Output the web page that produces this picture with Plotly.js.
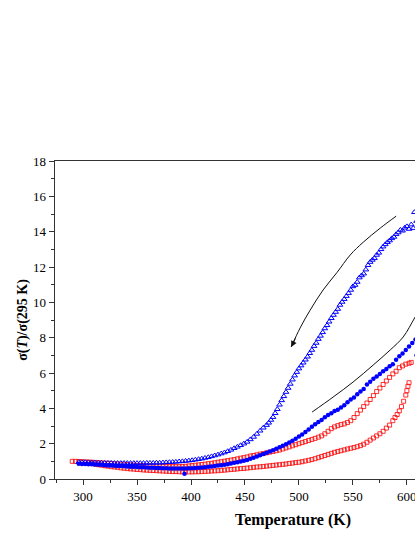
<!DOCTYPE html>
<html>
<head>
<meta charset="utf-8">
<script src="https://cdn.plot.ly/plotly-3.0.1.min.js"></script>
<style>
html,body{margin:0;padding:0;overflow:hidden;background:#fff;}
#chart{width:600px;height:537px;}
</style>
</head>
<body>
<div id="chart"></div>
<script>
// Blue open triangles (cooling run)
const triT = [296,299,302,305,308,311,314,317,320,323,326,329,332,335,338,341,344,347,350,353,356,359,362,365,368,371,374,377,380,383,386,389,392,395,398,401,404,407,410,413,416,419,422,425,428,431,434,437,440,443,446,449,452,455,458,461,464,467,470,472,474,476,478,480,482,484,486,488,490,492,494,496,498,500,502,504,506,508,510,512,514,516,518,520,522,524,526,528,530,532,534,536,538,540,542,544,546,548,550,552,554,556,558,560,562,564,566,568,570,572,574,576,578,580,582,584,586,588,590,592,594,596,598,600,602,604,606,607,609,611,614];
const triS = [0.95,0.95,0.95,0.94,0.94,0.93,0.92,0.92,0.91,0.91,0.91,0.90,0.90,0.90,0.90,0.90,0.90,0.90,0.90,0.90,0.90,0.91,0.91,0.91,0.92,0.92,0.93,0.94,0.95,0.96,0.97,0.99,1.00,1.02,1.04,1.06,1.09,1.12,1.15,1.19,1.23,1.28,1.33,1.38,1.44,1.50,1.57,1.65,1.74,1.82,1.91,2.00,2.10,2.24,2.38,2.55,2.73,2.90,3.05,3.18,3.34,3.50,3.72,3.95,4.20,4.45,4.68,4.92,5.15,5.38,5.62,5.85,6.05,6.25,6.42,6.58,6.75,6.92,7.12,7.30,7.52,7.70,7.92,8.10,8.30,8.52,8.70,8.90,9.10,9.28,9.45,9.62,9.85,10.02,10.18,10.35,10.52,10.70,10.90,10.98,11.15,11.40,11.52,11.62,11.85,12.10,12.28,12.40,12.50,12.68,12.80,13.00,13.15,13.28,13.40,13.50,13.62,13.70,13.85,13.95,14.10,14.05,14.22,14.30,14.15,14.40,14.20,15.10,14.60,14.90,15.20];

// Blue filled circles
const cirT = [296,299,302,305,308,311,314,317,320,323,326,329,332,335,338,341,344,347,350,353,356,359,362,365,368,371,374,377,380,383,386,389,392,394,395,398,401,404,407,410,413,416,419,422,425,428,431,434,437,440,443,446,449,452,455,458,461,464,467,470,473,476,479,482,485,488,491,494,497,500,503,506,509,512,515,518,521,524,527,530,533,536,539,542,545,548,551,554,557,560,563,566,569,572,575,578,581,584,587,590,593,596,599,602,605,608,609,611,614];
const cirS = [0.86,0.85,0.85,0.84,0.83,0.82,0.81,0.80,0.78,0.77,0.76,0.75,0.74,0.73,0.72,0.71,0.70,0.69,0.68,0.67,0.66,0.65,0.64,0.63,0.62,0.62,0.61,0.61,0.60,0.60,0.60,0.60,0.60,0.30,0.60,0.61,0.61,0.62,0.64,0.65,0.67,0.69,0.71,0.73,0.76,0.78,0.81,0.84,0.88,0.92,0.95,0.99,1.03,1.08,1.14,1.20,1.27,1.34,1.41,1.48,1.55,1.63,1.71,1.80,1.88,1.97,2.06,2.16,2.28,2.40,2.52,2.66,2.80,2.96,3.10,3.22,3.34,3.50,3.62,3.72,3.85,3.92,4.05,4.18,4.35,4.50,4.62,4.80,4.95,5.10,5.35,5.50,5.68,5.80,5.95,6.10,6.22,6.38,6.50,6.75,6.95,7.10,7.30,7.50,7.70,7.90,7.00,8.05,8.20];

// Red open squares, upper curve
const sqUT = [290,293,296,299,302,305,308,311,314,317,320,323,326,329,332,335,338,341,344,347,350,353,356,359,362,365,368,371,374,377,380,383,386,389,392,395,398,401,404,407,410,413,416,419,422,425,428,431,434,437,440,443,446,449,452,455,458,461,464,467,470,473,476,479,482,485,488,491,494,497,500,503,506,509,512,515,518,521,524,527,530,533,536,539,542,545,548,551,554,557,560,563,566,569,572,575,578,581,584,587,590,593,596,599,602,604];
const sqUS = [1.00,1.00,0.99,0.98,0.97,0.96,0.95,0.94,0.93,0.91,0.90,0.89,0.88,0.86,0.85,0.84,0.83,0.82,0.80,0.79,0.78,0.77,0.76,0.75,0.74,0.73,0.72,0.72,0.71,0.71,0.70,0.70,0.70,0.70,0.71,0.72,0.74,0.76,0.78,0.80,0.82,0.84,0.87,0.89,0.92,0.95,0.98,1.01,1.04,1.07,1.10,1.14,1.18,1.21,1.25,1.30,1.33,1.37,1.41,1.44,1.48,1.52,1.56,1.60,1.64,1.70,1.76,1.82,1.88,1.94,2.00,2.06,2.12,2.18,2.24,2.30,2.37,2.44,2.56,2.70,2.85,2.95,3.02,3.08,3.12,3.20,3.30,3.48,3.70,3.90,4.10,4.30,4.50,4.72,4.95,5.15,5.35,5.55,5.75,5.95,6.10,6.30,6.40,6.50,6.55,6.60];

// Red open squares, lower curve
const sqLT = [305,308,311,314,317,320,323,326,329,332,335,338,341,344,347,350,353,356,359,362,365,368,371,374,377,380,383,386,389,392,395,398,401,404,407,410,413,416,419,422,425,428,431,434,437,440,443,446,449,452,455,458,461,464,467,470,473,476,479,482,485,488,491,494,497,500,503,506,509,512,515,518,521,524,527,530,533,536,539,542,545,548,551,554,557,560,563,566,569,572,575,578,581,584,587,589,591,593,595,597,599,600,601,602];
const sqLS = [0.92,0.88,0.84,0.81,0.78,0.75,0.73,0.70,0.68,0.66,0.63,0.61,0.59,0.57,0.56,0.54,0.53,0.51,0.50,0.49,0.48,0.47,0.46,0.45,0.44,0.43,0.42,0.42,0.41,0.40,0.40,0.40,0.40,0.41,0.41,0.42,0.43,0.44,0.45,0.46,0.47,0.49,0.50,0.52,0.54,0.55,0.57,0.59,0.60,0.62,0.64,0.66,0.68,0.69,0.71,0.73,0.75,0.77,0.79,0.81,0.83,0.85,0.88,0.90,0.93,0.95,0.98,1.02,1.06,1.10,1.15,1.21,1.27,1.33,1.39,1.45,1.51,1.56,1.60,1.65,1.70,1.74,1.78,1.83,1.89,1.97,2.08,2.20,2.32,2.44,2.56,2.70,2.88,3.05,3.30,3.48,3.65,3.85,4.10,4.40,4.75,5.00,5.25,5.45];

// Guide arrows (curved)
const arrow1T = [590.1,575.3,559.5,547.5,535.4,522.4,510.4,501.1,492.8];
const arrow1S = [14.88,14.2,13.4,12.68,11.7,10.7,9.56,8.55,7.47];
const arrow2T = [512.2,531.7,550.2,568.8,584.5,596.6,607.7,620];
const arrow2S = [3.79,4.64,5.49,6.45,7.3,8.04,9.17,10.4];

const xTicks = [300,350,400,450,500,550,600,650,700];
const yTicks = [0,2,4,6,8,10,12,14,16,18];

const traces = [
  {x: sqLT, y: sqLS, mode: 'markers', type: 'scatter',
   marker: {symbol: 'square-open', size: 4, color: 'rgba(255,0,0,0.8)', line: {width: 1}}},
  {x: sqUT, y: sqUS, mode: 'markers', type: 'scatter',
   marker: {symbol: 'square-open', size: 4, color: 'rgba(255,0,0,0.8)', line: {width: 1}}},
  {x: cirT, y: cirS, mode: 'markers', type: 'scatter',
   marker: {symbol: 'circle', size: 4.5, color: '#0000ff'}},
  {x: triT, y: triS, mode: 'markers', type: 'scatter',
   marker: {symbol: 'triangle-up-open', size: 5, color: '#0000ff', line: {width: 1}}},
  {x: arrow1T, y: arrow1S, mode: 'lines', type: 'scatter',
   line: {color: '#111', width: 1, shape: 'spline'}},
  {x: arrow2T, y: arrow2S, mode: 'lines', type: 'scatter',
   line: {color: '#111', width: 1, shape: 'spline'}}
];

const n1 = arrow1T.length - 1;
const n2 = arrow2T.length - 1;
const serif = '"Liberation Serif", "Times New Roman", serif';

const layout = {
  width: 600, height: 537,
  margin: {l: 55, r: 69, t: 161, b: 58},
  paper_bgcolor: '#fff', plot_bgcolor: '#fff',
  showlegend: false,
  font: {family: serif, size: 13, color: '#000'},
  xaxis: {
    range: [274, 715],
    tickmode: 'array', tickvals: xTicks, ticktext: xTicks.map(String),
    ticks: 'outside', ticklen: 5, tickwidth: 1, tickcolor: '#333',
    minor: {dtick: 25, tick0: 275, ticks: 'outside', ticklen: 3, tickwidth: 1, tickcolor: '#333'},
    showline: true, linecolor: '#333', linewidth: 1.3, mirror: true,
    showgrid: false, zeroline: false,
    tickfont: {family: serif, size: 13},
    title: {text: '<b>Temperature (K)</b>', font: {family: serif, size: 16}, standoff: 11}
  },
  yaxis: {
    range: [0, 18],
    tickmode: 'array', tickvals: yTicks, ticktext: yTicks.map(String),
    ticks: 'outside', ticklen: 5, tickwidth: 1, tickcolor: '#333',
    minor: {dtick: 1, tick0: 0, ticks: 'outside', ticklen: 3, tickwidth: 1, tickcolor: '#333'},
    showline: true, linecolor: '#333', linewidth: 1.3, mirror: true,
    showgrid: false, zeroline: false,
    tickfont: {family: serif, size: 13},
    title: {text: '<b>σ(<i>T</i>)/σ(295 K)</b>', font: {family: serif, size: 14}, standoff: 2}
  },
  annotations: [
    {x: arrow1T[n1], y: arrow1S[n1], xref: 'x', yref: 'y', text: '', showarrow: true,
     arrowhead: 2, arrowsize: 1.2, arrowwidth: 1, arrowcolor: '#111', ax: 5, ay: -10},
    {x: arrow2T[n2], y: arrow2S[n2], xref: 'x', yref: 'y', text: '', showarrow: true,
     arrowhead: 2, arrowsize: 1.2, arrowwidth: 1, arrowcolor: '#111', ax: -8, ay: 9}
  ]
};

Plotly.newPlot('chart', traces, layout, {staticPlot: true, displayModeBar: false});
</script>
</body>
</html>
